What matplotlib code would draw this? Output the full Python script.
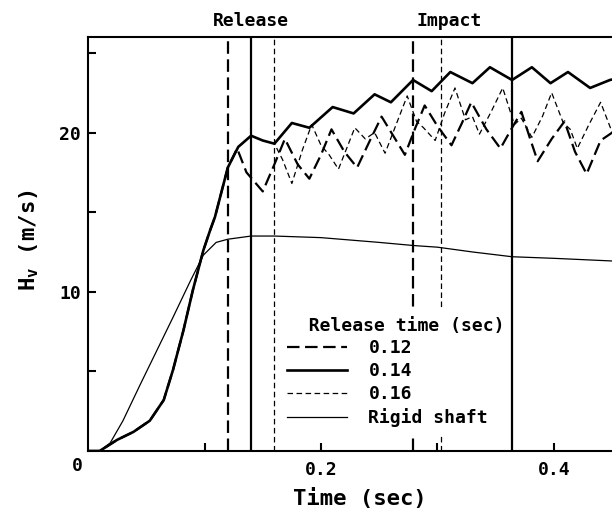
import matplotlib
matplotlib.use("Agg")
import matplotlib.pyplot as plt

plt.rcParams['font.family'] = 'DejaVu Sans Mono'
plt.rcParams['font.weight'] = 'bold'
plt.rcParams['lines.scale_dashes'] = False

# release 0.14 sec (bold line), the rise part is shared by all flexible shafts
t_014 = [0.0, 0.010, 0.025, 0.039, 0.053, 0.065, 0.073, 0.082, 0.090, 0.099,
         0.105, 0.109, 0.120, 0.129, 0.140, 0.150, 0.160, 0.175, 0.190, 0.210,
         0.228, 0.246, 0.260, 0.279, 0.295, 0.311, 0.330, 0.345, 0.364, 0.381,
         0.397, 0.412, 0.431, 0.448, 0.460]
v_014 = [0.0, 0.0, 0.7, 1.2, 1.9, 3.2, 5.1, 7.6, 10.1, 12.6,
         13.9, 14.7, 17.8, 19.1, 19.8, 19.5, 19.3, 20.6, 20.3, 21.6,
         21.2, 22.4, 21.9, 23.3, 22.6, 23.8, 23.1, 24.1, 23.3, 24.1,
         23.1, 23.8, 22.8, 23.3, 23.5]

# release 0.12 sec, after it leaves the 0.14 curve
t_012 = [0.128, 0.136, 0.150, 0.160, 0.169, 0.180, 0.190, 0.200, 0.209, 0.220,
         0.231, 0.242, 0.252, 0.262, 0.272, 0.281, 0.289, 0.300, 0.312, 0.321,
         0.329, 0.342, 0.354, 0.364, 0.372, 0.380, 0.386, 0.398, 0.409, 0.418,
         0.428, 0.440, 0.450]
v_012 = [19.0, 17.5, 16.3, 18.0, 19.6, 18.0, 17.1, 18.6, 20.2, 18.8,
         17.8, 19.5, 21.0, 19.8, 18.6, 20.3, 21.7, 20.4, 19.2, 20.6,
         21.9, 20.2, 19.0, 20.3, 21.3, 19.5, 18.2, 19.6, 20.7, 18.8,
         17.4, 19.5, 20.0]

# release 0.16 sec
t_016 = [0.160, 0.167, 0.175, 0.184, 0.192, 0.200, 0.207, 0.215, 0.222, 0.229,
         0.238, 0.246, 0.255, 0.265, 0.274, 0.282, 0.288, 0.298, 0.306, 0.315,
         0.324, 0.330, 0.336, 0.346, 0.356, 0.366, 0.372, 0.381, 0.390, 0.398,
         0.408, 0.414, 0.420, 0.430, 0.440, 0.450]
v_016 = [19.3, 18.3, 16.8, 18.9, 20.5, 19.2, 18.6, 17.7, 19.0, 20.3,
         19.6, 20.0, 18.7, 20.6, 22.3, 20.7, 20.3, 19.5, 21.2, 22.8,
         20.8, 21.0, 19.9, 21.3, 22.8, 20.5, 20.9, 19.7, 21.0, 22.5,
         20.6, 20.2, 19.0, 20.5, 21.9, 20.0]

# rigid shaft
t_rigid = [0.0, 0.010, 0.019, 0.030, 0.045, 0.059, 0.073, 0.088, 0.099, 0.110,
           0.120, 0.130, 0.140, 0.160, 0.200, 0.250, 0.280, 0.300, 0.330, 0.364,
           0.400, 0.460]
v_rigid = [0.0, 0.0, 0.5, 1.9, 4.2, 6.3, 8.4, 10.7, 12.3, 13.1,
           13.3, 13.4, 13.5, 13.5, 13.4, 13.1, 12.9, 12.8, 12.5, 12.2,
           12.1, 11.9]

release_times = [0.12, 0.14, 0.16]
impact_times = [0.279, 0.364, 0.303]

# flexible shaft curves follow the 0.14 curve up to their own release
def with_rise(t_after, v_after):
    t0 = t_after[0]
    tt = [t for t in t_014 if t < t0] + t_after
    vv = [v for t, v in zip(t_014, v_014) if t < t0] + v_after
    return tt, vv

t12, v12 = with_rise(t_012, v_012)
t16, v16 = with_rise(t_016, v_016)

fig = plt.figure(figsize=(6.12, 5.12), dpi=100)
ax = fig.add_axes([88 / 612, 61 / 512, 582.5 / 612, 414 / 512])

long_dash = (0, (9, 4))
short_dash = (0, (4, 2.5))
styles = [dict(color='black', lw=1.6, linestyle=long_dash),
          dict(color='black', lw=1.6, linestyle='-'),
          dict(color='black', lw=0.9, linestyle=short_dash)]

for tr, st in zip(release_times, styles):
    ax.axvline(tr, **st)
for ti, st in zip(impact_times, styles):
    # the 0.14 impact line runs right of the legend box, keep it on top
    z = 6 if st['linestyle'] == '-' else 2
    ax.axvline(ti, zorder=z, **st)

ax.plot(t12, v12, color='black', lw=1.6, linestyle=long_dash, label='0.12')
ax.plot(t_014, v_014, color='black', lw=1.9, label='0.14')
ax.plot(t16, v16, color='black', lw=0.9, linestyle=short_dash, label='0.16')
ax.plot(t_rigid, v_rigid, color='black', lw=0.9, label='Rigid shaft')

ax.set_xlim(0, 0.5)
ax.set_ylim(0, 26)
ax.set_xticks([0.1, 0.2, 0.3, 0.4])
ax.set_xticklabels(['', '0.2', '', '0.4'])
ax.set_yticks([5, 10, 15, 20, 25])
ax.set_yticklabels(['', '10', '', '20', ''])
ax.tick_params(direction='in', length=6, width=1.5, labelsize=13)
ax.tick_params(axis='x', pad=7)
ax.tick_params(axis='y', pad=5)
for sp in ax.spines.values():
    sp.set_linewidth(1.5)

leg = ax.legend(title='  Release time (sec)', alignment='left',
                loc='upper left', bbox_to_anchor=(0.1648, 8.9),
                bbox_transform=ax.transData, borderaxespad=0,
                frameon=True, fancybox=False, framealpha=1,
                edgecolor='none', facecolor='white', borderpad=0.4,
                prop={'size': 13, 'weight': 'bold'},
                title_fontproperties={'size': 13, 'weight': 'bold'},
                handlelength=3.3, handletextpad=1.2, labelspacing=0.27)

ax.text(0.14, 27.0, 'Release', ha='center', va='center', fontsize=13,
        clip_on=False)
ax.text(0.31, 27.0, 'Impact', ha='center', va='center', fontsize=13,
        clip_on=False)

fig.text(77.5 / 612, 1 - 466 / 512, '0', ha='center', va='center', fontsize=13)
fig.text(360 / 612, 1 - 499 / 512, 'Time (sec)', ha='center', va='center',
         fontsize=16)
fig.text(29 / 612, 1 - 240 / 512, r'H$_\mathregular{v}$ (m/s)', rotation=90,
         ha='center', va='center', fontsize=16)

fig.savefig('out.png', dpi=100)
